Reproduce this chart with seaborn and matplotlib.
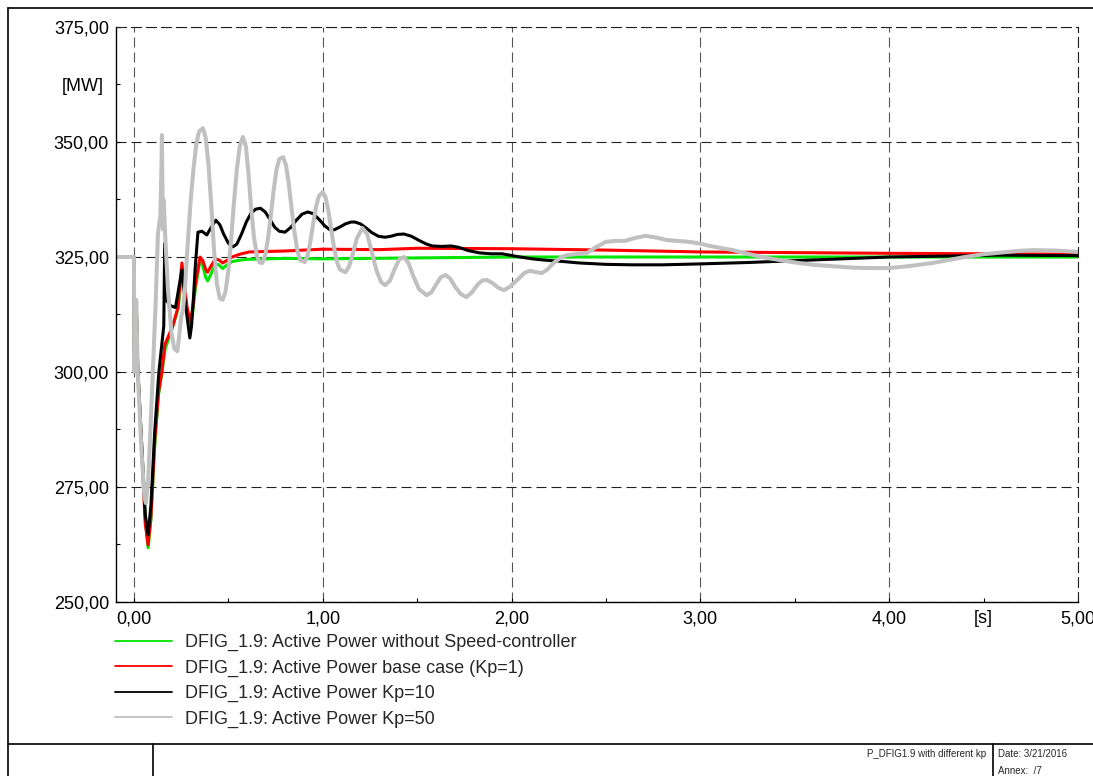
import numpy as np
import pandas as pd
import matplotlib
matplotlib.use("Agg")
import matplotlib.pyplot as plt
from matplotlib.lines import Line2D
from matplotlib.ticker import FixedLocator, FixedFormatter
import seaborn as sns

# ---- data: active power [MW] over time [s] ----
t_green = [-0.095, 0.0, 0.002, 0.012, 0.02, 0.04, 0.06, 0.075, 0.09, 0.11, 0.13, 0.15, 0.165,
           0.19, 0.21, 0.235, 0.254, 0.265, 0.28, 0.296, 0.31, 0.325, 0.35, 0.365, 0.38, 0.39,
           0.405, 0.43, 0.45, 0.47, 0.49, 0.52, 0.56, 0.6, 0.7, 0.8, 1.0, 1.5, 2.0, 3.0, 4.0, 5.0]
p_green = [325, 325, 300, 315.5, 301, 285, 268, 261.8, 268, 284, 295, 300.5, 305,
           308, 310.5, 314, 322.5, 319, 313.5, 310, 312.5, 318, 324.5, 323, 320.6, 319.8,
           321, 323.5, 323.3, 322.5, 323.2, 324, 324.3, 324.5, 324.6, 324.7, 324.6, 324.8,
           325, 325, 325, 325]

t_red = [-0.095, 0.0, 0.002, 0.012, 0.02, 0.04, 0.06, 0.075, 0.09, 0.11, 0.13, 0.148, 0.164,
         0.19, 0.206, 0.233, 0.254, 0.265, 0.28, 0.296, 0.31, 0.325, 0.35, 0.365, 0.38, 0.39,
         0.405, 0.43, 0.45, 0.47, 0.49, 0.52, 0.56, 0.61, 0.7, 0.8, 0.9, 1.0, 1.3, 1.5, 2.0,
         2.5, 3.0, 4.0, 5.0]
p_red = [325, 325, 300, 315.5, 301, 284, 267, 262.4, 268.5, 285, 295.5, 300, 306,
         308.5, 310, 314, 323.7, 320, 314.5, 311, 313.5, 319, 325, 324.2, 322.3, 321.7,
         322.8, 324.5, 324.4, 323.7, 324.2, 325, 325.6, 326.1, 326.2, 326.3, 326.5, 326.7,
         326.6, 326.9, 326.8, 326.5, 326.1, 325.8, 325.6]

t_black = [-0.095, 0.0, 0.002, 0.012, 0.02, 0.04, 0.06, 0.075, 0.09, 0.11, 0.132, 0.145, 0.158,
           0.163, 0.167, 0.19, 0.22, 0.254, 0.275, 0.296, 0.305, 0.315, 0.325, 0.339, 0.36,
           0.386, 0.41, 0.434, 0.455, 0.475, 0.5, 0.524, 0.545, 0.57, 0.595, 0.62, 0.645, 0.67,
           0.695, 0.72, 0.745, 0.77, 0.80, 0.83, 0.86, 0.89, 0.92, 0.95, 0.98, 1.01, 1.035,
           1.06, 1.09, 1.12, 1.15, 1.17, 1.2, 1.23, 1.26, 1.295, 1.33, 1.36, 1.395, 1.43, 1.47,
           1.51, 1.55, 1.58, 1.63, 1.68, 1.72, 1.77, 1.83, 1.89, 1.95, 2.03, 2.11, 2.18, 2.25,
           2.36, 2.5, 2.64, 2.8, 3.0, 3.25, 3.5, 3.75, 4.0, 4.3, 4.58, 5.0]
p_black = [325, 325, 300, 315.5, 301, 285, 269, 264.6, 271, 287, 300, 305, 310,
           328, 316, 314.5, 314, 322.2, 314, 307.4, 310, 316, 323, 330.4, 330.6,
           329.8, 331.5, 333, 332, 330, 328, 327.2, 327.8, 330, 332.6, 334.5, 335.4, 335.6,
           334.8, 333.2, 331.5, 330.6, 330.4, 331.4, 333, 334.3, 334.8, 334.4, 333.2, 331.8, 331,
           330.9, 331.5, 332.2, 332.6, 332.6, 332.2, 331.3, 330.3, 329.5, 329.3, 329.5, 329.9, 330, 329.5,
           328.6, 327.8, 327.4, 327.3, 327.4, 327.1, 326.4, 325.9, 325.7, 325.7, 325.1, 324.6, 324.3, 324.1,
           323.7, 323.4, 323.3, 323.3, 323.5, 323.8, 324.2, 324.6, 325, 325.2, 325.4, 325.3]

t_gray = [-0.095, 0.0, 0.002, 0.012, 0.02, 0.04, 0.055, 0.063, 0.075, 0.09, 0.1, 0.115, 0.127,
          0.14, 0.146, 0.148, 0.151, 0.155, 0.158, 0.165, 0.18, 0.2, 0.215, 0.23, 0.24, 0.25,
          0.26, 0.27, 0.285, 0.3, 0.315, 0.33, 0.345, 0.365, 0.38, 0.395, 0.41, 0.425, 0.44,
          0.455, 0.47, 0.485, 0.5, 0.515, 0.53, 0.545, 0.56, 0.577, 0.593, 0.607, 0.62, 0.635,
          0.65, 0.665, 0.68, 0.695, 0.71, 0.725, 0.74, 0.755, 0.77, 0.79, 0.805, 0.82, 0.835,
          0.85, 0.865, 0.88, 0.905, 0.92, 0.935, 0.95, 0.965, 0.98, 1.0, 1.015, 1.03, 1.045,
          1.06, 1.075, 1.09, 1.12, 1.14, 1.16, 1.18, 1.21, 1.235, 1.26, 1.285, 1.31, 1.33,
          1.355, 1.38, 1.405, 1.43, 1.455, 1.48, 1.51, 1.55, 1.575, 1.6, 1.625, 1.65, 1.675,
          1.7, 1.73, 1.76, 1.79, 1.82, 1.845, 1.87, 1.9, 1.93, 1.96, 1.99, 2.03, 2.07, 2.1,
          2.13, 2.16, 2.19, 2.22, 2.26, 2.29, 2.34, 2.4, 2.45, 2.5, 2.55, 2.6, 2.66, 2.71,
          2.77, 2.82, 2.88, 2.94, 3.0, 3.05, 3.17, 3.26, 3.35, 3.44, 3.52, 3.6, 3.7, 3.8,
          3.88, 4.0, 4.1, 4.23, 4.32, 4.4, 4.5, 4.6, 4.68, 4.76, 4.88, 5.0]
p_gray = [325, 325, 300, 315.7, 300, 283, 273, 271.5, 276, 290, 300, 315, 330,
          334, 345, 351.5, 340, 331, 337.4, 330, 318, 308, 305, 304.5, 308, 312,
          313.5, 318, 328, 337, 344, 349.5, 352.3, 353, 351, 345, 336, 326, 319,
          316, 315.7, 317.5, 322, 329, 337, 344, 349, 351.1, 349, 343, 336, 329.5,
          325.5, 323.8, 323.7, 325.3, 329, 334, 339.5, 344, 346.3, 346.7, 345, 341, 335.5,
          330.5, 326.5, 324.3, 323.9, 325.3, 328.5, 332.5, 336, 338.3, 339.1, 338, 335, 331,
          327, 324, 322.3, 321.7, 323, 325.8, 329, 331.3, 330, 326, 322, 319.5, 318.9,
          319.8, 322.3, 324.5, 325, 323.6, 320.8, 318, 316.7, 317.3, 319, 320.6, 321.1, 320.3,
          318.6, 317, 316.3, 317.3, 319, 319.9, 320, 319.3, 318.3, 317.8, 318.5, 320, 321.6, 322,
          321.7, 321.5, 322.3, 323.6, 324.9, 325.4, 325.6, 325.9, 327.2, 328.3, 328.5, 328.5, 329.2, 329.6,
          329.2, 328.7, 328.5, 328.3, 327.9, 327.4, 326.5, 325.6, 324.8, 324.2, 323.7, 323.3, 323, 322.7,
          322.6, 322.6, 323, 323.7, 324.4, 325, 325.6, 326, 326.3, 326.5, 326.4, 326.1]

labels = ["DFIG_1.9: Active Power without Speed-controller",
          "DFIG_1.9: Active Power base case (Kp=1)",
          "DFIG_1.9: Active Power Kp=10",
          "DFIG_1.9: Active Power Kp=50"]
colors = ["#00e600", "#ff0000", "#000000", "#c0c0c0"]

y_major = [250, 275, 300, 325, 350, 375]
x_major = [0, 1, 2, 3, 4, 5]
y_minor = [262.5, 287.5, 312.5, 337.5, 362.5]
x_minor = [0.5, 1.5, 2.5, 3.5, 4.5]

# ---- style ----
sns.set_theme(style="white")
plt.rcParams["font.family"] = ["Liberation Sans", "DejaVu Sans"]
plt.rcParams["lines.scale_dashes"] = False

W, H = 1093, 776
fig = plt.figure(figsize=(W / 100, H / 100), dpi=100)
ax = fig.add_axes([116 / W, 1 - 602 / H, (1078 - 116) / W, (602 - 27) / H])

series = [(t_green, p_green, 2.2), (t_red, p_red, 2.2), (t_black, p_black, 2.2), (t_gray, p_gray, 2.9)]
for (tt, pp, lw), col, lab in zip(series, colors, labels):
    df = pd.DataFrame({"t": tt, "P": pp})
    sns.lineplot(data=df, x="t", y="P", ax=ax, color=col, linewidth=lw,
                 estimator=None, sort=False, label=lab, legend=False)

ax.set_xlim(-0.095, 5.0)
ax.set_ylim(250, 375)
ax.set_xlabel("")
ax.set_ylabel("")

ax.xaxis.set_major_locator(FixedLocator(x_major))
ax.xaxis.set_major_formatter(FixedFormatter([f"{v:.2f}".replace(".", ",") for v in x_major]))
ax.yaxis.set_major_locator(FixedLocator(y_major))
ax.yaxis.set_major_formatter(FixedFormatter([f"{v:.2f}".replace(".", ",") for v in y_major]))
ax.xaxis.set_minor_locator(FixedLocator(x_minor))
ax.xaxis.set_minor_formatter(FixedFormatter(["", "", "", "", "[s]"]))
ax.yaxis.set_minor_locator(FixedLocator(y_minor))
ax.yaxis.set_minor_formatter(FixedFormatter(["", "", "", "", "[MW]"]))

ax.tick_params(axis="both", which="both", direction="in", length=3, width=0.8,
               colors="#000000", labelsize=13, bottom=True, left=True)
ax.tick_params(axis="y", which="major", pad=5)
ax.tick_params(axis="y", which="minor", pad=9)
ax.tick_params(axis="x", which="both", pad=6)

dash = (0, (7.2, 3.6))
ax.yaxis.grid(True, which="major", color="#222222", linestyle=dash, linewidth=0.8)
ax.xaxis.grid(True, which="major", color="#555555", linestyle=dash, linewidth=0.8)
ax.set_axisbelow(True)

for side in ["left", "bottom"]:
    ax.spines[side].set_color("#000000")
    ax.spines[side].set_linewidth(1.0)
for side in ["top", "right"]:
    ax.spines[side].set_color("#222222")
    ax.spines[side].set_linewidth(0.8)
    ax.spines[side].set_linestyle(dash)

# legend below the plot
handles = [Line2D([], [], color=c, linewidth=1.3) for c in colors]
fig.legend(handles, labels, loc="upper left", bbox_to_anchor=(115 / W, 1 - 634 / H),
           bbox_transform=fig.transFigure, frameon=False, fontsize=13,
           handlelength=3.17, handletextpad=0.72, labelspacing=0.46,
           borderpad=0, borderaxespad=0)

# page frame and title block
frame_kw = dict(color="#000000", linewidth=1.2, transform=fig.transFigure)
fig.add_artist(Line2D([8 / W, 8 / W], [0, 1 - 8 / H], **frame_kw))
fig.add_artist(Line2D([8 / W, 1], [1 - 8 / H, 1 - 8 / H], **frame_kw))
fig.add_artist(Line2D([8 / W, 1], [1 - 744 / H, 1 - 744 / H], **frame_kw))
fig.add_artist(Line2D([153 / W, 153 / W], [0, 1 - 744 / H], **frame_kw))
fig.add_artist(Line2D([993 / W, 993 / W], [0, 1 - 744 / H], **frame_kw))
fig.text(986 / W, 1 - 754 / H, "P_DFIG1.9 with different kp", ha="right", va="center", fontsize=7)
fig.text(998 / W, 1 - 754 / H, "Date: 3/21/2016", ha="left", va="center", fontsize=7)
fig.text(998 / W, 1 - 771 / H, "Annex:  /7", ha="left", va="center", fontsize=7)

fig.savefig("out.png", dpi=100)
